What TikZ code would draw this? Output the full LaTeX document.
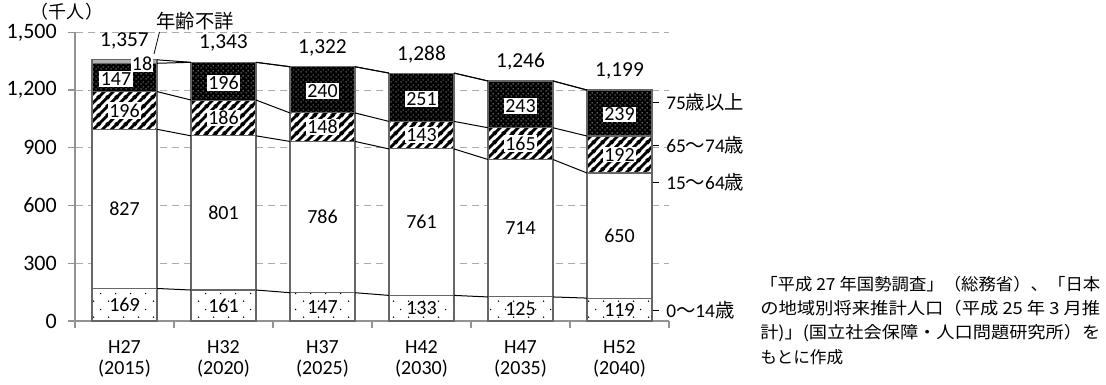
\documentclass[tikz,border=0pt]{standalone}
\usepackage{fontspec}
\usepackage{graphicx}
\setmainfont{Carlito}
\newfontfamily\jp{Noto Sans CJK JP}
\usetikzlibrary{patterns}
\pgfdeclarepatternformonly{sparsedots}{\pgfqpoint{0pt}{0pt}}{\pgfqpoint{11.25pt}{12pt}}{\pgfqpoint{11.25pt}{12pt}}{%
  \pgfpathcircle{\pgfqpoint{2.8pt}{3pt}}{0.65pt}%
  \pgfpathcircle{\pgfqpoint{8.4pt}{9pt}}{0.65pt}%
  \pgfusepath{fill}}
\pgfdeclarepatternformonly{whitedots}{\pgfqpoint{0pt}{0pt}}{\pgfqpoint{3.4pt}{3.4pt}}{\pgfqpoint{3.4pt}{3.4pt}}{%
  \pgfpathcircle{\pgfqpoint{0.85pt}{0.85pt}}{0.42pt}%
  \pgfpathcircle{\pgfqpoint{2.55pt}{2.55pt}}{0.42pt}%
  \pgfusepath{fill}}
\pgfdeclarepatternformonly{thickhatch}{\pgfqpoint{0pt}{0pt}}{\pgfqpoint{6.75pt}{6.75pt}}{\pgfqpoint{6.75pt}{6.75pt}}{%
  \pgfsetlinewidth{2.3pt}%
  \pgfpathmoveto{\pgfqpoint{-1pt}{-1pt}}\pgfpathlineto{\pgfqpoint{7.75pt}{7.75pt}}%
  \pgfpathmoveto{\pgfqpoint{-1pt}{5.75pt}}\pgfpathlineto{\pgfqpoint{1pt}{7.75pt}}%
  \pgfpathmoveto{\pgfqpoint{5.75pt}{-1pt}}\pgfpathlineto{\pgfqpoint{7.75pt}{1pt}}%
  \pgfusepath{stroke}}
\tikzset{
  gridline/.style={draw=gray!65, dash pattern=on 5.25pt off 3.75pt, line width=0.75pt},
  axisline/.style={draw=gray!85, line width=0.8pt},
  barline/.style={draw=black!60, line width=0.8pt},
  conn/.style={draw=black, line width=0.75pt},
  vlab/.style={font=\fontsize{15}{16}\selectfont, inner sep=1pt},
  wlab/.style={vlab, fill=white},
  ylab/.style={font=\fontsize{16.5}{17}\selectfont, anchor=east, inner sep=0pt},
  totlab/.style={font=\fontsize{16}{17}\selectfont, inner sep=0pt},
  xlab/.style={font=\fontsize{15}{16}\selectfont, inner sep=0pt},
  leglab/.style={font=\fontsize{14.5}{15}\selectfont, anchor=west, inner sep=0pt},
  srclab/.style={font=\jp\fontsize{12.5}{13}\selectfont, anchor=west, inner sep=0pt},
}
\def\sc{0.19247}
\begin{document}
\begin{tikzpicture}[x=0.75pt, y=-0.75pt]
\useasboundingbox (0,0) rectangle (1106,385);
% grid lines
\foreach \v in {300,600,...,1500}{
  \draw[gridline] (76,{321-\sc*\v}) -- (669,{321-\sc*\v});
}
% axes
\draw[axisline] (75,{321-\sc*1500}) -- (75,327.5);
\foreach \v in {0,300,...,1500}{
  \draw[axisline] (68,{321-\sc*\v}) -- (75,{321-\sc*\v});
}
\draw[axisline] (75,321) -- (669,321);
\foreach \k in {1,...,6}{
  \draw[axisline] ({75+99*\k},321) -- ({75+99*\k},327.5);
}
\node[ylab] (y0) at (57,321) {0};
\node[ylab] (y300) at (57,{321-\sc*300}) {300};
\node[ylab] (y600) at (57,{321-\sc*600}) {600};
\node[ylab] (y900) at (57,{321-\sc*900}) {900};
\node[ylab] (y1200) at (57,{321-\sc*1200}) {1,200};
\node[ylab] (y1500) at (57,{321-\sc*1500}) {1,500};
\node[font=\jp\fontsize{13.5}{14}\selectfont, inner sep=0pt] (unit) at (67,12) {（千人）};
% bars
\foreach \i/\va/\vb/\vc/\vd/\ve/\tot/\dx/\hh/\yy in {
   0/169/827/196/147/18/{1,357}/-8.5/H27/2015,
   1/161/801/186/196/0/{1,343}/0/H32/2020,
   2/147/786/148/240/0/{1,322}/0/H37/2025,
   3/133/761/143/251/0/{1,288}/0/H42/2030,
   4/125/714/165/243/0/{1,246}/0/H47/2035,
   5/119/650/192/239/0/{1,199}/0/H52/2040}{
  \pgfmathsetmacro\cx{124.5+99*\i}
  \pgfmathsetmacro\xl{\cx-32.5}
  \pgfmathsetmacro\xr{\cx+32.5}
  \pgfmathsetmacro\ya{321-\sc*\va}
  \pgfmathsetmacro\yb{321-\sc*(\va+\vb)}
  \pgfmathsetmacro\yc{321-\sc*(\va+\vb+\vc)}
  \pgfmathsetmacro\yd{321-\sc*(\va+\vb+\vc+\vd)}
  \pgfmathsetmacro\ye{321-\sc*(\va+\vb+\vc+\vd+\ve)}
  \fill[white] (\xl,321) rectangle (\xr,\yd);
  \fill[pattern=sparsedots] (\xl,321) rectangle (\xr,\ya);
  \fill[pattern=thickhatch] (\xl,\yb) rectangle (\xr,\yc);
  \fill[black] (\xl,\yc) rectangle (\xr,\yd);
  \fill[pattern=whitedots, pattern color=white] (\xl,\yc) rectangle (\xr,\yd);
  \ifnum\ve>0
    \fill[gray!60] (\xl,\yd) rectangle (\xr,\ye);
    \draw[barline] (\xl,\yd) rectangle (\xr,\ye);
  \fi
  \draw[barline] (\xl,321) rectangle (\xr,\ya);
  \draw[barline] (\xl,\ya) rectangle (\xr,\yb);
  \draw[barline] (\xl,\yb) rectangle (\xr,\yc);
  \draw[barline] (\xl,\yc) rectangle (\xr,\yd);
  \coordinate (b\i aL) at (\xl,\ya); \coordinate (b\i aR) at (\xr,\ya);
  \coordinate (b\i bL) at (\xl,\yb); \coordinate (b\i bR) at (\xr,\yb);
  \coordinate (b\i cL) at (\xl,\yc); \coordinate (b\i cR) at (\xr,\yc);
  \coordinate (b\i dL) at (\xl,\yd); \coordinate (b\i dR) at (\xr,\yd);
  \coordinate (b\i eL) at (\xl,\ye); \coordinate (b\i eR) at (\xr,\ye);
  \node[vlab] (la\i) at (\cx,{(321+\ya)/2}) {\va};
  \node[vlab] (lb\i) at (\cx,{(\ya+\yb)/2}) {\vb};
  \node[wlab] (lc\i) at (\cx,{(\yb+\yc)/2}) {\vc};
  \node[wlab] (ld\i) at ({\cx+\dx},{(\yc+\yd)/2+1.5}) {\vd};
  \node[totlab] (tot\i) at (\cx,{\ye-19}) {\tot};
  \node[xlab] (xa\i) at (\cx,347) {\hh};
  \node[xlab] (xb\i) at (\cx,369) {(\yy)};
}
% connector lines between bars
\foreach \i [evaluate=\i as \j using int(\i+1)] in {0,...,4}{
  \foreach \s in {a,b,c,d,e}{
    \draw[conn] (b\i\s R) -- (b\j\s L);
  }
}
% unknown-age label
\node[wlab] (l18) at (142,64) {18};
\node[font=\jp\fontsize{14.5}{15}\selectfont, inner sep=0pt] (nenrei) at (195,21) {年齢不詳};
\coordinate (ldA) at (154,54);
\coordinate (ldB) at (159.5,32);
\draw[line width=0.6pt] (ldA) -- (ldB);
% legend labels
\coordinate (g1a) at (652.5,102);   \coordinate (g1b) at (659,102);
\coordinate (g2a) at (652.5,145.5); \coordinate (g2b) at (659,145.5);
\coordinate (g3a) at (652.5,182.5); \coordinate (g3b) at (659,182.5);
\coordinate (g4a) at (652.5,310);   \coordinate (g4b) at (659,310);
\foreach \g in {1,2,3,4}{ \draw[line width=0.75pt] (g\g a) -- (g\g b); }
\node[leglab] (leg1) at (666,102) {75{\jp 歳以上}};
\node[leglab] (leg2) at (666,145.5) {65{\jp 〜}74{\jp 歳}};
\node[leglab] (leg3) at (666,182.5) {15{\jp 〜}64{\jp 歳}};
\node[leglab] (leg4) at (666,310) {0{\jp 〜}14{\jp 歳}};
% source
\node[srclab] (s1) at (760,284) {\resizebox{255pt}{\height}{「平成 27 年国勢調査」（総務省）、「日本}};
\node[srclab] (s2) at (760,308.5) {\resizebox{255pt}{\height}{の地域別将来推計人口（平成 25 年 3 月推}};
\node[srclab] (s3) at (760,333) {\resizebox{255pt}{\height}{計)」(国立社会保障・人口問題研究所）を}};
\node[srclab] (s4) at (760,357.5) {もとに作成};
\end{tikzpicture}
\end{document}
